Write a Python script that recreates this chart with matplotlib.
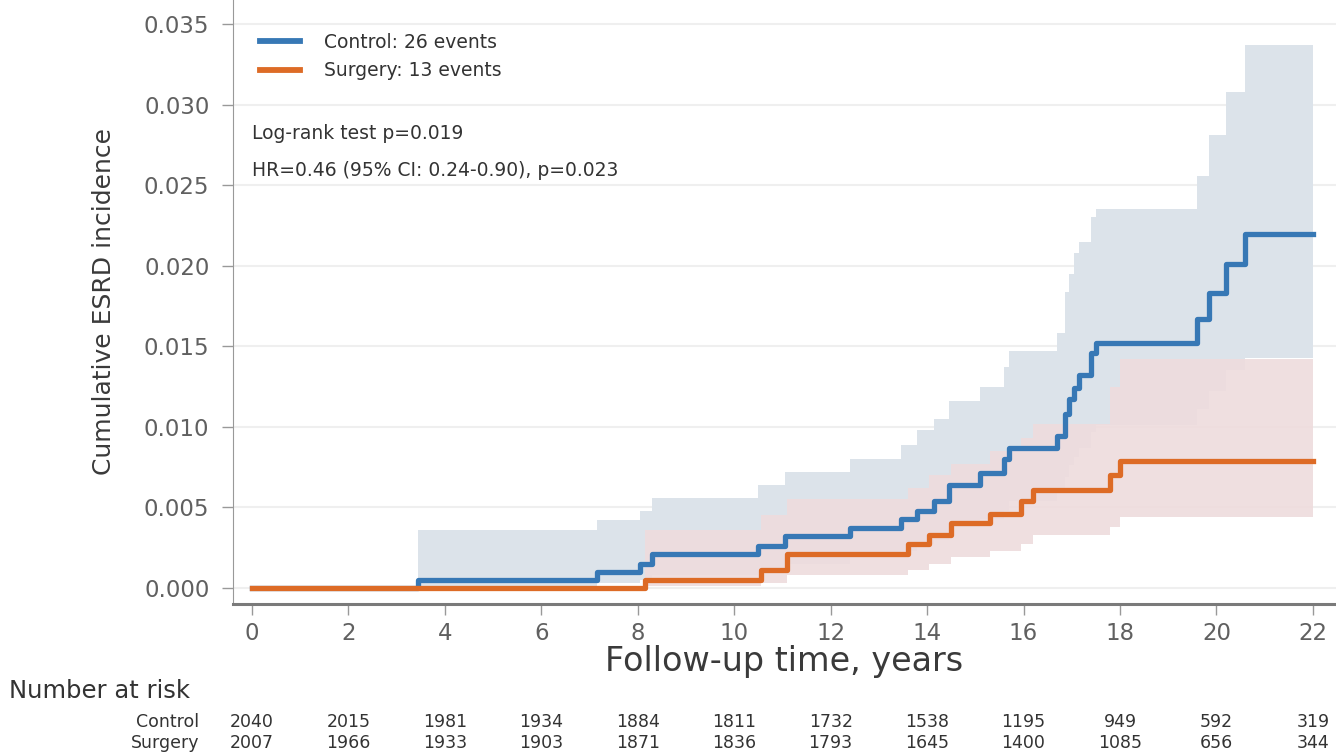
import matplotlib
matplotlib.use("Agg")
import matplotlib.pyplot as plt
import matplotlib.transforms as mtransforms

plt.rcParams['font.family'] = ['DejaVu Sans']

# step curves (years, cumulative incidence)
ctrl_t = [0, 3.45, 7.15, 8.05, 8.3, 10.5, 11.05, 12.4, 13.45, 13.8, 14.15, 14.45, 15.1,
          15.6, 15.7, 16.7, 16.85, 16.95, 17.05, 17.15, 17.4, 17.5, 19.6, 19.85, 20.2, 20.6, 22]
ctrl_y = [0, .0005, .0010, .0015, .0021, .0026, .0032, .0037, .0043, .0048, .0054, .0064, .0071,
          .0080, .0087, .0094, .0108, .0117, .0124, .0132, .0146, .0152, .0167, .0183, .0201, .0220, .0220]
ctrl_hi = [0, .0036, .0042, .0048, .0056, .0064, .0072, .0080, .0089, .0098, .0105, .0116, .0125,
           .0137, .0147, .0158, .0184, .0195, .0208, .0215, .0230, .0235, .0256, .0281, .0308, .0337, .0337]
ctrl_lo = [0, .0001, .0003, .0005, .0008, .0011, .0015, .0019, .0023, .0027, .0030, .0038, .0043,
           .0048, .0054, .0059, .0069, .0076, .0081, .0087, .0097, .0101, .0111, .0122, .0135, .0143, .0143]

surg_t = [0, 8.15, 10.55, 11.1, 13.6, 14.05, 14.5, 15.3, 15.95, 16.2, 17.8, 18.0, 22]
surg_y = [0, .0005, .0011, .0021, .0027, .0033, .0040, .0046, .0054, .0061, .0070, .0079, .0079]
surg_hi = [0, .0036, .0045, .0055, .0062, .0070, .0077, .0085, .0093, .0102, .0125, .0142, .0142]
surg_lo = [0, .0001, .0003, .0008, .0011, .0015, .0019, .0023, .0027, .0033, .0038, .0044, .0044]

risk_times = [0, 2, 4, 6, 8, 10, 12, 14, 16, 18, 20, 22]
risk_ctrl = [2040, 2015, 1981, 1934, 1884, 1811, 1732, 1538, 1195, 949, 592, 319]
risk_surg = [2007, 1966, 1933, 1903, 1871, 1836, 1793, 1645, 1400, 1085, 656, 344]

yticks = [0, .005, .010, .015, .020, .025, .030, .035]

blue = '#3778b5'
orange = '#dd6b26'

fig = plt.figure(figsize=(13.36, 7.54), dpi=100)
ax = fig.add_axes([0.1744, 0.199, 0.8256, 0.801])

ax.fill_between(ctrl_t, ctrl_lo, ctrl_hi, step='post', color='#dce3ea', lw=0, zorder=1)
ax.fill_between(surg_t, surg_lo, surg_hi, step='post', color='#eedcdd', alpha=0.9, lw=0, zorder=2)
ax.step(ctrl_t, ctrl_y, where='post', color=blue, lw=3.8, zorder=3,
        label='Control: 26 events')
ax.step(surg_t, surg_y, where='post', color=orange, lw=3.8, zorder=4,
        label='Surgery: 13 events')

ax.set_xlim(-0.394, 22.48)
ax.set_ylim(-0.001, 0.0365)
ax.set_xticks(risk_times)
ax.set_yticks(yticks)
ax.set_yticklabels(['%.3f' % v for v in yticks])
ax.grid(axis='y', color='#efefef', lw=1.5)
ax.set_axisbelow(True)

for s in ['top', 'right']:
    ax.spines[s].set_visible(False)
ax.spines['left'].set_color('#999999')
ax.spines['bottom'].set_color('#7a7a7a')
ax.spines['bottom'].set_linewidth(2.2)
ax.tick_params(axis='both', colors='#999999', labelcolor='#606060', labelsize=16.5,
               length=8, width=1)
ax.tick_params(axis='y', pad=9)
ax.tick_params(axis='x', pad=5)

ax.set_ylabel('Cumulative ESRD incidence', fontsize=18, color='#3a3a3a', labelpad=20)
ax.set_xlabel('Follow-up time, years', fontsize=24, color='#3a3a3a', labelpad=0)

leg = ax.legend(loc='upper left', bbox_to_anchor=(0.018, 0.958), frameon=False,
                fontsize=13.5, handlelength=2.1, handletextpad=1.3, labelspacing=0.5,
                labelcolor='#333333', borderaxespad=0)
for h in leg.get_lines():
    h.set_linewidth(4.2)

ax.text(0.0, 0.0282, 'Log-rank test p=0.019', fontsize=13.5, color='#333333', va='center')
ax.text(0.0, 0.0259, 'HR=0.46 (95% CI: 0.24-0.90), p=0.023', fontsize=13.5,
        color='#333333', va='center')

# number at risk table
tr = mtransforms.blended_transform_factory(ax.transData, fig.transFigure)
fig.text(0.007, 0.0836, 'Number at risk', fontsize=17.5, color='#333333', va='center')
fig.text(0.149, 0.0424, 'Control', fontsize=12.5, color='#333333', va='center', ha='right')
fig.text(0.149, 0.0146, 'Surgery', fontsize=12.5, color='#333333', va='center', ha='right')
for t, a, b in zip(risk_times, risk_ctrl, risk_surg):
    ax.text(t, 0.0424, str(a), transform=tr, fontsize=12.5, color='#333333',
            ha='center', va='center')
    ax.text(t, 0.0146, str(b), transform=tr, fontsize=12.5, color='#333333',
            ha='center', va='center')

fig.savefig('out.png', dpi=100)
